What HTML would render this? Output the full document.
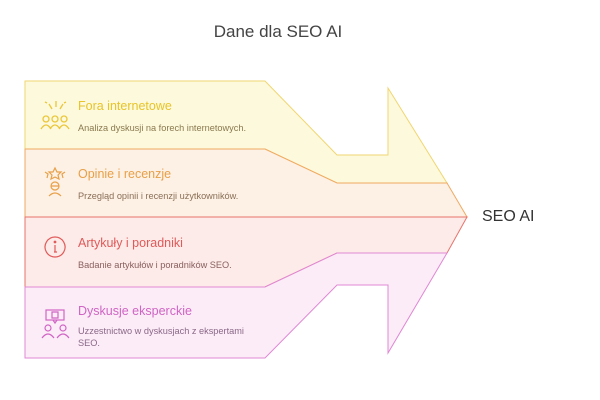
<!DOCTYPE html>
<html><head><meta charset="utf-8"><style>
body{margin:0;background:#fff;}
svg{display:block;font-family:"Liberation Sans",sans-serif;}
</style></head><body>
<svg width="600" height="400" viewBox="0 0 600 400">
<rect width="600" height="400" fill="#fff"/>
<text x="278" y="37" text-anchor="middle" font-size="17" fill="#444">Dane dla SEO AI</text>
<polygon points="25,81 265,81 337,155 388,155 388,88 447,183 337,183 265,149 25,149" fill="#fdf9dc" stroke="#f0d670" stroke-width="1"/>
<polygon points="25,149 265,149 337,183 447,183 467,217 25,217" fill="#fdf0e4" stroke="#f0aa62" stroke-width="1"/>
<polygon points="25,217 467,217 447,253 337,253 265,287 25,287" fill="#fcebe8" stroke="#e8736c" stroke-width="1"/>
<polygon points="25,287 265,287 337,253 447,253 388,353 388,285 337,285 265,358 25,358" fill="#fcecf7" stroke="#e088d4" stroke-width="1"/>
<text x="482" y="221" font-size="16" fill="#333">SEO AI</text>

<text x="78" y="110" font-size="12.5" fill="#e8c428">Fora internetowe</text>
<text x="78" y="131" font-size="9.2" fill="#8a7a50">Analiza dyskusji na forech internetowych.</text>
<text x="78" y="178" font-size="12.5" fill="#e8a048">Opinie i recenzje</text>
<text x="78" y="199" font-size="9.2" fill="#8a7058">Przegląd opinii i recenzji użytkowników.</text>
<text x="78" y="247" font-size="12.5" fill="#e05a5a">Artykuły i poradniki</text>
<text x="78" y="268" font-size="9.2" fill="#8a6060">Badanie artykułów i poradników SEO.</text>
<text x="78" y="315" font-size="12.5" fill="#d064c4">Dyskusje eksperckie</text>
<text x="78" y="334" font-size="9.2" fill="#8a6888">Uzzestnictwo w dyskusjach z ekspertami</text>
<text x="78" y="346" font-size="9.2" fill="#8a6888">SEO.</text>

<g fill="none" stroke="#eac73a" stroke-width="1.3">
<circle cx="46" cy="119" r="3"/><circle cx="55" cy="119" r="3"/><circle cx="64" cy="119" r="3"/>
<path d="M41 129 q5-8 10 0 M50 129 q5-8 10 0 M59 129 q5-8 10 0"/>
<path d="M49 104 l3 5 M56 101 v6 M63 104 l-3 5 M45 102 l2 1 M66 102 l-2 1"/>
</g>
<g fill="none" stroke="#e8a048" stroke-width="1.2">
<polygon points="55,168 57,172 61,172 58,175 59,179 55,177 51,179 52,175 49,172 53,172"/>
<path d="M45 172 l3 2 -1 4 M65 172 l-3 2 1 4"/>
<circle cx="55" cy="186" r="4"/><path d="M51 186 h8 M49 196 q6-6 12 0"/>
</g>
<g fill="none" stroke="#e05a5a" stroke-width="1.2">
<path d="M55 237 a10 10 0 1 0 0.1 0 z"/>
<path d="M55 245 v7 M54 252 h3" />
<circle cx="55" cy="242" r="0.8" fill="#e05a5a"/>
</g>
<g fill="none" stroke="#d064c4" stroke-width="1.2">
<rect x="46" y="310" width="18" height="10"/>
<path d="M53 320 l2 3 2-3 M52 312 h6 v6 h-6z"/>
<circle cx="48" cy="328" r="3"/><circle cx="63" cy="328" r="3"/>
<path d="M42 338 q6-8 12 0 M57 338 q6-8 12 0"/>
</g>
</svg>
</body></html>
